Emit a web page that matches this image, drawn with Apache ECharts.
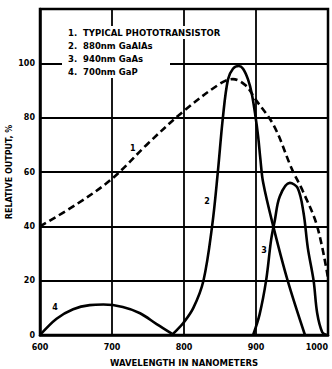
<!DOCTYPE html>
<html>
<head>
<meta charset="utf-8">
<script src="https://cdn.jsdelivr.net/npm/echarts@6/dist/echarts.min.js"></script>
<style>
  html, body { margin: 0; padding: 0; background: #fff; }
  #chart { width: 332px; height: 369px; }
</style>
</head>
<body>
<div id="chart"></div>
<script>
// x axis ticks (nm) and y axis ticks (%)
const xTicks = [600, 700, 800, 900, 1000]
const yTicks = [0, 20, 40, 60, 80, 100]

const legendLines = [
  '1.  TYPICAL PHOTOTRANSISTOR',
  '2.  880nm GaAlAs',
  '3.  940nm GaAs',
  '4.  700nm GaP'
]

// 1. typical phototransistor (dashed)
const photoNm  = [600, 650, 700, 750, 800, 850, 868, 885, 900, 925, 950, 965, 985, 1000]
const photoPct = [40, 48, 57.5, 70.5, 82.5, 92.5, 94.2, 92, 86.5, 77, 61, 53, 40, 21]

// 2. 880nm GaAlAs
const gaalasNm  = [783, 790, 799, 813, 827, 839, 847, 854, 861, 868, 876, 882, 889, 894, 899, 903, 906, 910, 924, 944, 968]
const gaalasPct = [0, 1.8, 4.4, 10, 20, 40, 60, 80, 94, 98, 99, 98, 94, 89, 81, 73, 65, 56, 40, 20, 0]

// 3. 940nm GaAs
const gaasNm  = [896, 905, 914, 921, 926, 933, 947, 958, 966, 972, 980, 985, 992, 998]
const gaasPct = [0, 7.6, 20, 35, 42, 51, 56, 54, 45, 32, 20, 8, 1, 0]

// 4. 700nm GaP
const gapNm  = [600, 623, 646, 669, 688, 715, 739, 762, 783]
const gapPct = [0, 6, 9.5, 11, 11.2, 10.3, 8, 4, 0.5]

// curve number labels [nm, %]
const curveTags = [
  { name: '1', at: [729, 68.5] },
  { name: '2', at: [832, 49] },
  { name: '3', at: [911, 31] },
  { name: '4', at: [621, 10] }
]

const zip = (xs, ys) => xs.map((x, i) => [x, ys[i]])
const font = 'DejaVu Sans'

const mkSeries = (data, dashed, tag) => ({
  type: 'line',
  data,
  smooth: 0.35,
  showSymbol: false,
  lineStyle: {
    color: '#000',
    width: 2.6,
    type: dashed ? [7, 4] : 'solid'
  },
  markPoint: {
    symbol: 'circle',
    symbolSize: 0,
    label: {
      show: true,
      formatter: tag.name,
      color: '#000',
      fontFamily: font,
      fontWeight: 'bold',
      fontSize: 8
    },
    data: [{ coord: tag.at }]
  }
})

const legendStyle = w => ({
  fontFamily: font, fontWeight: 'bold', fontSize: 8.5, color: '#000',
  backgroundColor: '#fff', width: w, height: 13, lineHeight: 13, padding: [0, 0, 0, 6]
})

const option = {
  animation: false,
  backgroundColor: '#fff',
  title: {
    text: legendLines.map((l, i) => '{' + (i === 0 ? 'a' : 'b') + '|' + l + '}').join('\n'),
    left: 62,
    top: 26,
    padding: 0,
    textStyle: {
      rich: {
        a: legendStyle(180),
        b: legendStyle(102)
      }
    }
  },
  grid: {
    left: 40,
    right: 4,
    top: 9,
    bottom: 34,
    outerBoundsMode: 'none',
    show: true,
    borderColor: '#000',
    borderWidth: 2.5,
    backgroundColor: 'transparent'
  },
  xAxis: {
    type: 'value',
    min: 600,
    max: 1000,
    interval: 100,
    name: 'WAVELENGTH IN NANOMETERS',
    nameLocation: 'middle',
    nameGap: 23,
    nameTextStyle: { fontFamily: font, fontWeight: 'bold', fontSize: 8.5, color: '#000' },
    axisLine: { show: true, lineStyle: { color: '#000', width: 2.5 } },
    axisTick: { show: false },
    axisLabel: {
      color: '#000', fontFamily: font, fontWeight: 'bold', fontSize: 8, margin: 8,
      alignMaxLabel: 'right',
      formatter: v => xTicks.includes(v) ? String(v) : ''
    },
    splitLine: { show: true, lineStyle: { color: '#000', width: 1.8 } }
  },
  yAxis: {
    type: 'value',
    min: 0,
    max: 120,
    interval: 20,
    name: 'RELATIVE OUTPUT, %',
    nameLocation: 'middle',
    nameGap: 27,
    nameMoveOverlap: false,
    nameTextStyle: { fontFamily: font, fontWeight: 'bold', fontSize: 8, color: '#000' },
    axisLine: { show: true, lineStyle: { color: '#000', width: 2.5 } },
    axisTick: { show: false },
    axisLabel: {
      color: '#000', fontFamily: font, fontWeight: 'bold', fontSize: 8, margin: 5,
      formatter: v => yTicks.includes(v) ? String(v) : ''
    },
    splitLine: { show: true, lineStyle: { color: '#000', width: 1.8 } }
  },
  series: [
    mkSeries(zip(photoNm, photoPct), true, curveTags[0]),
    mkSeries(zip(gaalasNm, gaalasPct), false, curveTags[1]),
    mkSeries(zip(gaasNm, gaasPct), false, curveTags[2]),
    mkSeries(zip(gapNm, gapPct), false, curveTags[3])
  ]
}

const chart = echarts.init(document.getElementById('chart'), null, { renderer: 'svg' })
chart.setOption(option)
</script>
</body>
</html>
